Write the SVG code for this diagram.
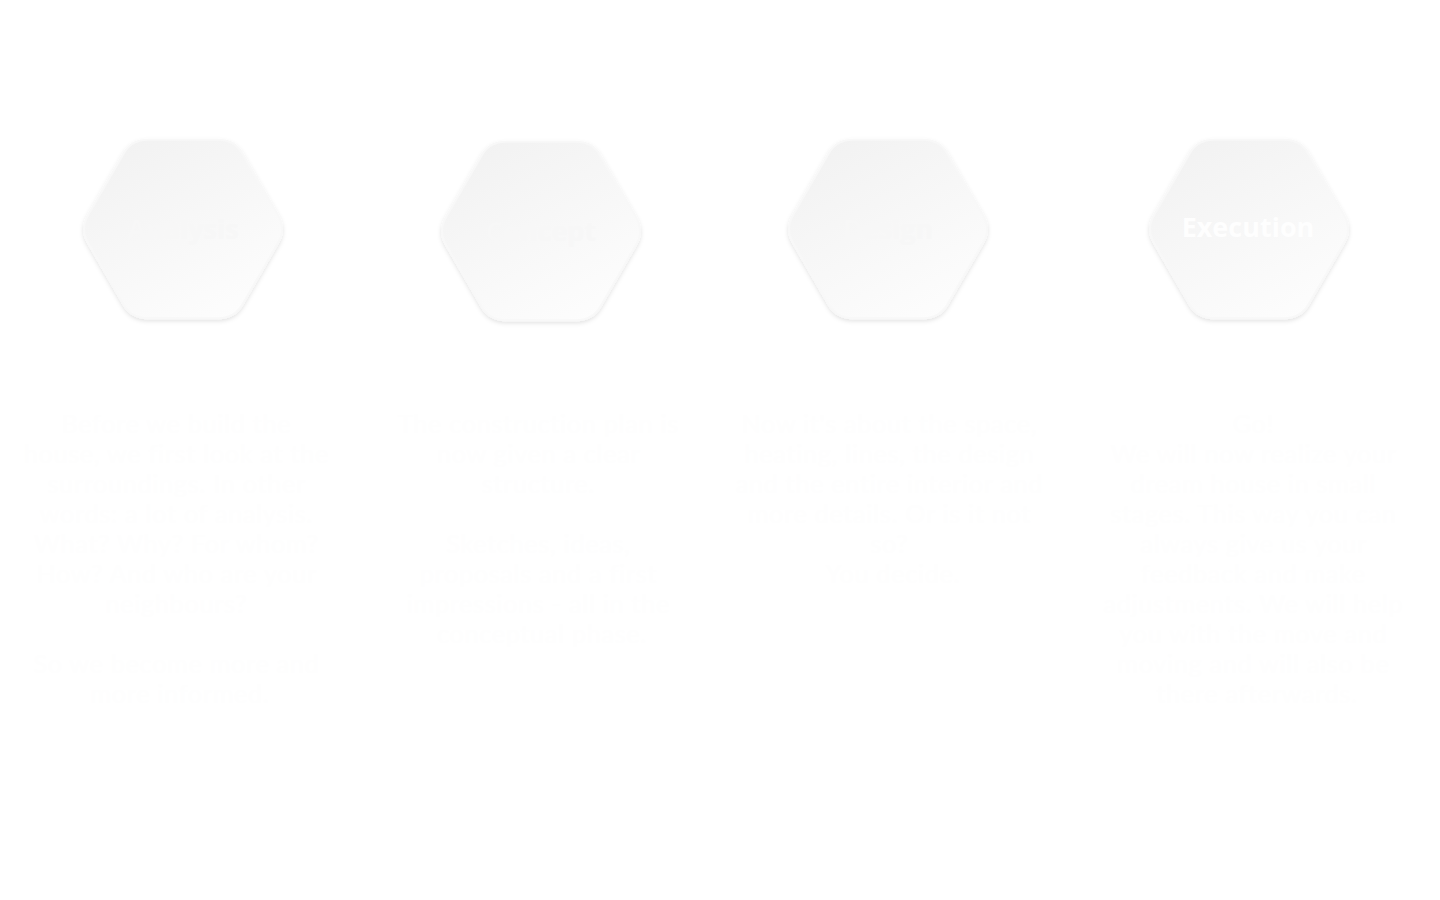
<svg xmlns="http://www.w3.org/2000/svg" width="1440" height="900" viewBox="0 0 1440 900">
  <defs>
    <linearGradient id="hexFill" x1="0.2" y1="0" x2="0.8" y2="1">
      <stop offset="0" stop-color="#f2f2f2"/>
      <stop offset="1" stop-color="#fdfdfd"/>
    </linearGradient>
    <filter id="hexShadow" x="-20%" y="-20%" width="140%" height="140%">
      <feDropShadow dx="0" dy="2" stdDeviation="2" flood-color="#000000" flood-opacity="0.11"/>
    </filter>
    <path id="hex" d="M95,-13.86 Q103,0 95,13.86 L59.5,75.34 Q51.5,89.2 35.5,89.2 L-35.5,89.2 Q-51.5,89.2 -59.5,75.34 L-95,13.86 Q-103,0 -95,-13.86 L-59.5,-75.34 Q-51.5,-89.2 -35.5,-89.2 L35.5,-89.2 Q51.5,-89.2 59.5,-75.34 Z"/>
  </defs>
  <style>
    .shape { fill: url(#hexFill); stroke: #f8f8f8; stroke-width: 2; filter: url(#hexShadow); }
    .title { font-family: "Open Sans", "Liberation Sans", sans-serif; font-weight: 700; font-size: 27px; fill: #f7f7f7; text-anchor: middle; }
    .title-lit { fill: #fefefe; }
    .body { font-family: Lato, "Liberation Sans", sans-serif; font-size: 25px; letter-spacing: 0.8px; fill: #fefefe; text-anchor: middle; }
  </style>
  <rect width="1440" height="900" fill="#ffffff"/>

  <g id="connectors"></g>

  <g id="node-analysis">
    <use href="#hex" class="shape" transform="translate(183,229)"/>
    <text class="title" x="183" y="239">Analysis</text>
    <text class="body">
      <tspan x="180" y="433">Before we build the</tspan>
      <tspan x="180" y="463">house, we first look at the</tspan>
      <tspan x="180" y="493">surroundings. In other</tspan>
      <tspan x="180" y="523">words: a lot of analysis.</tspan>
      <tspan x="180" y="553">What? Why? For whom?</tspan>
      <tspan x="180" y="583">How? And who are your</tspan>
      <tspan x="180" y="613">neighbours?</tspan>
      <tspan x="180" y="673">So we become more and</tspan>
      <tspan x="180" y="703">more informed.</tspan>
    </text>
  </g>

  <g id="node-concept">
    <use href="#hex" class="shape" transform="translate(541,231)"/>
    <text class="title" x="541" y="241">Concept</text>
    <text class="body">
      <tspan x="542" y="433">The construction plan is</tspan>
      <tspan x="542" y="463">now given a clear</tspan>
      <tspan x="542" y="493">structure.</tspan>
      <tspan x="542" y="553">Sketches, ideas,</tspan>
      <tspan x="542" y="583">proposals and a first</tspan>
      <tspan x="542" y="613">impressions - all in the</tspan>
      <tspan x="542" y="643">conceptual phase.</tspan>
    </text>
  </g>

  <g id="node-design">
    <use href="#hex" class="shape" transform="translate(888,229)"/>
    <text class="title" x="888" y="239">Design</text>
    <text class="body">
      <tspan x="893" y="433">Now it's about the space,</tspan>
      <tspan x="893" y="463">heating, lines, the design</tspan>
      <tspan x="893" y="493">and the entire interior and</tspan>
      <tspan x="893" y="523">more details. Or is it not</tspan>
      <tspan x="893" y="553">so?</tspan>
      <tspan x="893" y="583">You decide.</tspan>
    </text>
  </g>

  <g id="node-execution">
    <use href="#hex" class="shape" transform="translate(1249,229)"/>
    <text class="title title-lit" x="1248" y="237">Execution</text>
    <text class="body">
      <tspan x="1257" y="433">Go!</tspan>
      <tspan x="1257" y="463">We will now realize your</tspan>
      <tspan x="1257" y="493">dream house in small</tspan>
      <tspan x="1257" y="523">stages. This way you can</tspan>
      <tspan x="1257" y="553">always give us your</tspan>
      <tspan x="1257" y="583">feedback and make</tspan>
      <tspan x="1257" y="613">adjustments. We will help</tspan>
      <tspan x="1257" y="643">you with the move and</tspan>
      <tspan x="1257" y="673">moving and will also be</tspan>
      <tspan x="1257" y="703">there afterwards.</tspan>
    </text>
  </g>
</svg>
